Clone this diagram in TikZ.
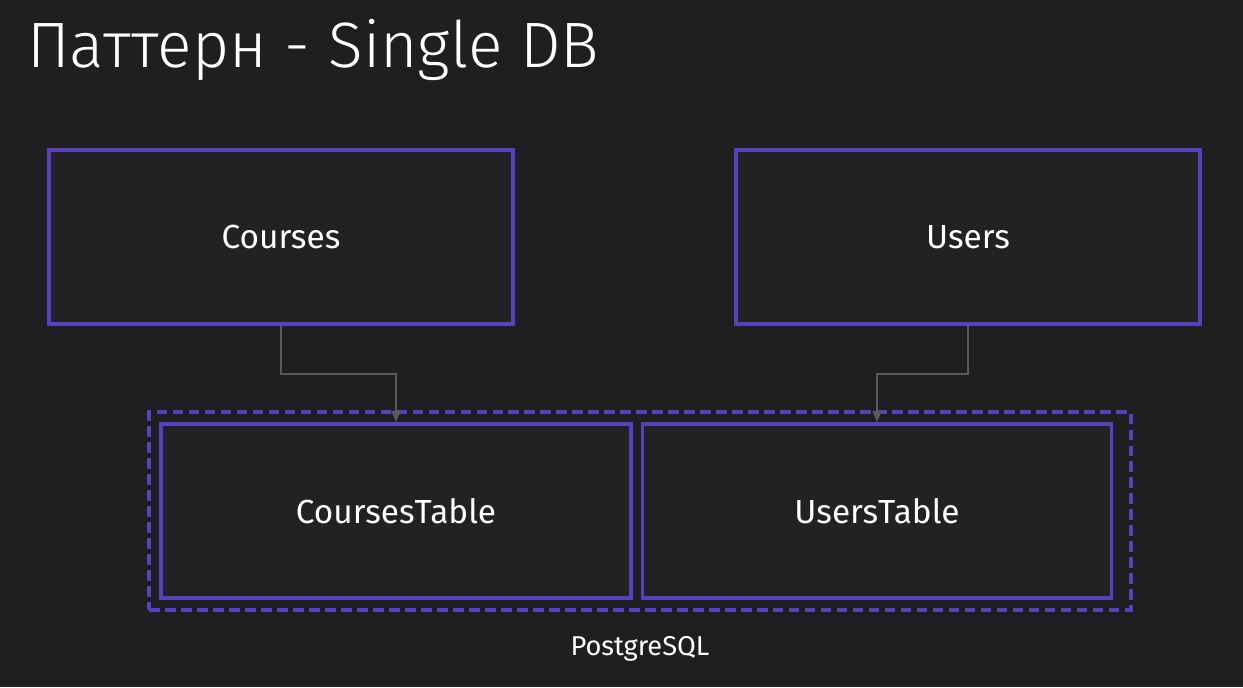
\documentclass[tikz,border=0pt]{standalone}
\usepackage{fontspec}
\setmainfont{Fira Sans}
\newfontfamily\titlefont{Fira Sans Light}
\usepackage{xcolor}
\usepackage{tikz}
\usetikzlibrary{calc,arrows.meta}
\definecolor{bg}{HTML}{1F1F22}
\definecolor{boxbg}{HTML}{222224}
\definecolor{text}{HTML}{FFFFFF}
\definecolor{violet}{HTML}{5B3FC0}
\definecolor{wire}{HTML}{5A5A5E}
\tikzset{
  svc/.style={draw=violet, fill=boxbg, line width=2.2pt, minimum width=9.28cm, minimum height=3.48cm, text=text, font=\fontsize{19}{23}\selectfont},
  tbl/.style={svc, minimum width=9.4cm},
  db/.style={draw=violet, line width=2pt, dash pattern=on 0.21cm off 0.11cm, minimum width=19.64cm, minimum height=3.96cm},
  lbl/.style={text=text, font=\fontsize{15.5}{18}\selectfont},
  link/.style={draw=wire, line width=0.9pt, -{Triangle[length=0.22cm, width=0.18cm]}}
}
\begin{document}
\begin{tikzpicture}[x=0.02cm, y=-0.02cm]
\fill[bg] (0,0) rectangle (1243,687);
\useasboundingbox (0,0) rectangle (1243,687);
% title
\node[anchor=base west, text=text, font=\titlefont\fontsize{36.5}{44}\selectfont, inner sep=0pt] (title) at (27,67) {Паттерн - Single DB};

% services
\node[svc] (courses) at (281,237) {Courses};
\node[svc] (users) at (968,237) {Users};

% database
\node[db] (pg) at (640,511) {};
\node[tbl] (ctab) at (396,511) {CoursesTable};
\node[tbl, minimum width=9.38cm] (utab) at (877,511) {UsersTable};
\node[lbl] (pglbl) at (640,649) {PostgreSQL};

% links
\coordinate (cbend) at (396,374);
\coordinate (ubend) at (877,374);
\draw[link] (courses.south) |- (cbend) -- (ctab.north);
\draw[link] (users.south) |- (ubend) -- (utab.north);
\end{tikzpicture}
\end{document}
